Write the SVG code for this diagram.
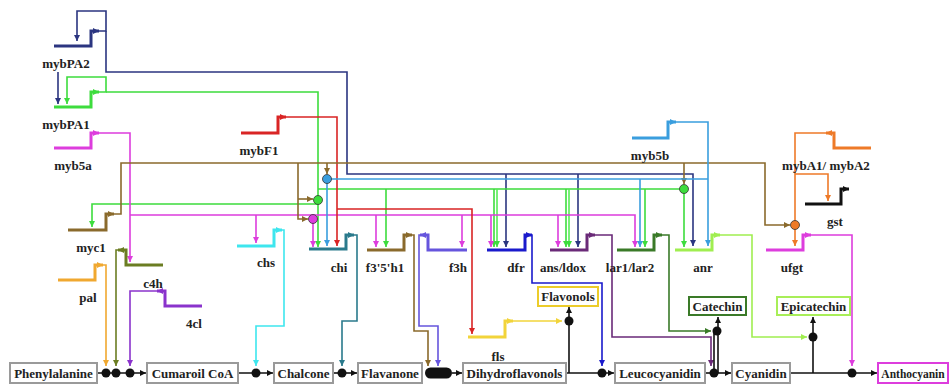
<svg xmlns="http://www.w3.org/2000/svg" width="950" height="385" viewBox="0 0 950 385">
<style>
.g{fill:none;stroke-width:3}
.c{fill:none;stroke-width:1.6}
.lbl{font-family:"Liberation Serif","Times New Roman",serif;font-weight:bold;font-size:13px;fill:#222;text-anchor:middle}
.box{fill:#fff;stroke:#9a9a9a;stroke-width:2}
.k{stroke:#111;fill:none;stroke-width:1.6}
.dot{fill:#111}
</style>
<defs>
<marker id="navy" viewBox="0 0 6 6" refX="6" refY="3" markerWidth="6" markerHeight="6" markerUnits="userSpaceOnUse" orient="auto"><path d="M0,0L6,3L0,6z" fill="#2b3580"/></marker>
<marker id="green" viewBox="0 0 6 6" refX="6" refY="3" markerWidth="6" markerHeight="6" markerUnits="userSpaceOnUse" orient="auto"><path d="M0,0L6,3L0,6z" fill="#3ddc3d"/></marker>
<marker id="mag" viewBox="0 0 6 6" refX="6" refY="3" markerWidth="6" markerHeight="6" markerUnits="userSpaceOnUse" orient="auto"><path d="M0,0L6,3L0,6z" fill="#dd3ddd"/></marker>
<marker id="red" viewBox="0 0 6 6" refX="6" refY="3" markerWidth="6" markerHeight="6" markerUnits="userSpaceOnUse" orient="auto"><path d="M0,0L6,3L0,6z" fill="#d92525"/></marker>
<marker id="brown" viewBox="0 0 6 6" refX="6" refY="3" markerWidth="6" markerHeight="6" markerUnits="userSpaceOnUse" orient="auto"><path d="M0,0L6,3L0,6z" fill="#8a6a2c"/></marker>
<marker id="lblue" viewBox="0 0 6 6" refX="6" refY="3" markerWidth="6" markerHeight="6" markerUnits="userSpaceOnUse" orient="auto"><path d="M0,0L6,3L0,6z" fill="#3a9ede"/></marker>
<marker id="orange" viewBox="0 0 6 6" refX="6" refY="3" markerWidth="6" markerHeight="6" markerUnits="userSpaceOnUse" orient="auto"><path d="M0,0L6,3L0,6z" fill="#ee7a28"/></marker>
<marker id="porange" viewBox="0 0 6 6" refX="6" refY="3" markerWidth="6" markerHeight="6" markerUnits="userSpaceOnUse" orient="auto"><path d="M0,0L6,3L0,6z" fill="#f0a830"/></marker>
<marker id="olive" viewBox="0 0 6 6" refX="6" refY="3" markerWidth="6" markerHeight="6" markerUnits="userSpaceOnUse" orient="auto"><path d="M0,0L6,3L0,6z" fill="#6b7d22"/></marker>
<marker id="purple" viewBox="0 0 6 6" refX="6" refY="3" markerWidth="6" markerHeight="6" markerUnits="userSpaceOnUse" orient="auto"><path d="M0,0L6,3L0,6z" fill="#8a33cc"/></marker>
<marker id="teal" viewBox="0 0 6 6" refX="6" refY="3" markerWidth="6" markerHeight="6" markerUnits="userSpaceOnUse" orient="auto"><path d="M0,0L6,3L0,6z" fill="#2a7a8c"/></marker>
<marker id="cyan" viewBox="0 0 6 6" refX="6" refY="3" markerWidth="6" markerHeight="6" markerUnits="userSpaceOnUse" orient="auto"><path d="M0,0L6,3L0,6z" fill="#3ee6ee"/></marker>
<marker id="violet" viewBox="0 0 6 6" refX="6" refY="3" markerWidth="6" markerHeight="6" markerUnits="userSpaceOnUse" orient="auto"><path d="M0,0L6,3L0,6z" fill="#6655dd"/></marker>
<marker id="blue" viewBox="0 0 6 6" refX="6" refY="3" markerWidth="6" markerHeight="6" markerUnits="userSpaceOnUse" orient="auto"><path d="M0,0L6,3L0,6z" fill="#1a1acc"/></marker>
<marker id="dpurple" viewBox="0 0 6 6" refX="6" refY="3" markerWidth="6" markerHeight="6" markerUnits="userSpaceOnUse" orient="auto"><path d="M0,0L6,3L0,6z" fill="#6a2a78"/></marker>
<marker id="dgreen" viewBox="0 0 6 6" refX="6" refY="3" markerWidth="6" markerHeight="6" markerUnits="userSpaceOnUse" orient="auto"><path d="M0,0L6,3L0,6z" fill="#3a7a28"/></marker>
<marker id="lgreen" viewBox="0 0 6 6" refX="6" refY="3" markerWidth="6" markerHeight="6" markerUnits="userSpaceOnUse" orient="auto"><path d="M0,0L6,3L0,6z" fill="#a0ee50"/></marker>
<marker id="yellow" viewBox="0 0 6 6" refX="6" refY="3" markerWidth="6" markerHeight="6" markerUnits="userSpaceOnUse" orient="auto"><path d="M0,0L6,3L0,6z" fill="#f2d43a"/></marker>
<marker id="black" viewBox="0 0 6 6" refX="6" refY="3" markerWidth="6" markerHeight="6" markerUnits="userSpaceOnUse" orient="auto"><path d="M0,0L6,3L0,6z" fill="#111"/></marker>
</defs>
<rect width="950" height="385" fill="#fff"/>

<g id="connectors">
<path class="c" stroke="#2b3580" d="M97,31H106V11H77V41" marker-end="url(#navy)"/>
<path class="c" stroke="#2b3580" d="M106,31V72H347V174H693V246" marker-end="url(#navy)"/>
<path class="c" stroke="#2b3580" d="M58,72V104" marker-end="url(#navy)"/>
<path class="c" stroke="#2b3580" d="M506,174V247" marker-end="url(#navy)"/>
<path class="c" stroke="#2b3580" d="M578,174V247" marker-end="url(#navy)"/>
<path class="c" stroke="#3ddc3d" d="M97,92H106V77H67V104" marker-end="url(#green)"/>
<path class="c" stroke="#3ddc3d" d="M106,92H318V247" marker-end="url(#green)"/>
<path class="c" stroke="#3ddc3d" d="M318,204H92V227" marker-end="url(#green)"/>
<path class="c" stroke="#3ddc3d" d="M318,189H684V247" marker-end="url(#green)"/>
<path class="c" stroke="#3ddc3d" d="M386,189V247" marker-end="url(#green)"/>
<path class="c" stroke="#3ddc3d" d="M494,189V247" marker-end="url(#green)"/>
<path class="c" stroke="#55ee55" d="M497,189V247" marker-end="url(#green)"/>
<path class="c" stroke="#3ddc3d" d="M566,189V247" marker-end="url(#green)"/>
<path class="c" stroke="#55ee55" d="M569,189V247" marker-end="url(#green)"/>
<path class="c" stroke="#3ddc3d" d="M645,189V247" marker-end="url(#green)"/>
<path class="c" stroke="#dd3ddd" d="M97,133H130V262" marker-end="url(#mag)"/>
<path class="c" stroke="#dd3ddd" d="M130,215H635V247" marker-end="url(#mag)"/>
<path class="c" stroke="#dd3ddd" d="M256,215V243" marker-end="url(#mag)"/>
<path class="c" stroke="#dd3ddd" d="M313,219V247" marker-end="url(#mag)"/>
<path class="c" stroke="#dd3ddd" d="M376,215V247" marker-end="url(#mag)"/>
<path class="c" stroke="#dd3ddd" d="M462,215V247" marker-end="url(#mag)"/>
<path class="c" stroke="#dd3ddd" d="M491,215V247" marker-end="url(#mag)"/>
<path class="c" stroke="#dd3ddd" d="M558,215V247" marker-end="url(#mag)"/>
<path class="c" stroke="#d92525" d="M284,117H337V246" marker-end="url(#red)"/>
<path class="c" stroke="#d92525" d="M337,209H472V334" marker-end="url(#red)"/>
<path class="c" stroke="#8a6a2c" d="M111,214H121V163H765V225H790" marker-end="url(#brown)"/>
<path class="c" stroke="#8a6a2c" d="M298,163V219H308" marker-end="url(#brown)"/>
<path class="c" stroke="#8a6a2c" d="M298,199H313" marker-end="url(#brown)"/>
<path class="c" stroke="#8a6a2c" d="M327,163V174" marker-end="url(#brown)"/>
<path class="c" stroke="#8a6a2c" d="M684,163V184" marker-end="url(#brown)"/>
<path class="c" stroke="#3a9ede" d="M673,122H708V246" marker-end="url(#lblue)"/>
<path class="c" stroke="#3a9ede" d="M708,179H327V246" marker-end="url(#lblue)"/>
<path class="c" stroke="#3a9ede" d="M640,179V247" marker-end="url(#lblue)"/>
<path class="c" stroke="#ee7a28" d="M829,133H795V246" marker-end="url(#orange)"/>
<path class="c" stroke="#ee7a28" d="M795,174H828V201" marker-end="url(#orange)"/>
<path class="c" stroke="#f0a830" d="M100,265H106V366" marker-end="url(#porange)"/>
<path class="c" stroke="#6b7d22" d="M121,250H116V366" marker-end="url(#olive)"/>
<path class="c" stroke="#8a33cc" d="M160,291H130V366" marker-end="url(#purple)"/>
<path class="c" stroke="#3ee6ee" d="M279,230H284V326H256V366" marker-end="url(#cyan)"/>
<path class="c" stroke="#2a7a8c" d="M351,235H357V321H342V366" marker-end="url(#teal)"/>
<path class="c" stroke="#8a6a2c" d="M409,235H414V331H428V366" marker-end="url(#brown)"/>
<path class="c" stroke="#6655dd" d="M423,235H419V326H438V366" marker-end="url(#violet)"/>
<path class="c" stroke="#1a1acc" d="M530,235H532V283H602V366" marker-end="url(#blue)"/>
<path class="c" stroke="#6a2a78" d="M592,235H612V337H711V366" marker-end="url(#dpurple)"/>
<path class="c" stroke="#3a7a28" d="M659,235H669V331H711" marker-end="url(#dgreen)"/>
<path class="c" stroke="#a0ee50" d="M717,235H752V337H807" marker-end="url(#lgreen)"/>
<path class="c" stroke="#dd3ddd" d="M808,235H852V366" marker-end="url(#mag)"/>
<path class="c" stroke="#f2d43a" d="M510,321H562" marker-end="url(#yellow)"/>
<path class="k" d="M97,373H146" marker-end="url(#black)"/>
<path class="k" d="M238,373H273" marker-end="url(#black)"/>
<path class="k" d="M333,373H357" marker-end="url(#black)"/>
<path class="k" d="M452,373H462" marker-end="url(#black)"/>
<path class="k" d="M566,373H614" marker-end="url(#black)"/>
<path class="k" d="M705,373H731" marker-end="url(#black)"/>
<path class="k" d="M790,373H877" marker-end="url(#black)"/>
<path class="k" d="M569,373V307" marker-end="url(#black)"/>
<path class="k" d="M714,373V331"/>
<path class="k" d="M718,373V317" marker-end="url(#black)"/>
<path class="k" d="M813,373V317" marker-end="url(#black)"/>
<circle class="dot" cx="106" cy="373" r="4.5"/>
<circle class="dot" cx="116" cy="373" r="4.5"/>
<circle class="dot" cx="130" cy="373" r="4.5"/>
<circle class="dot" cx="256" cy="373" r="4.5"/>
<circle class="dot" cx="342" cy="373" r="4.5"/>
<rect x="425" y="367.5" width="27" height="11" rx="5.5" fill="#111"/>
<circle class="dot" cx="602" cy="373" r="4.5"/>
<circle class="dot" cx="569" cy="321" r="4.5"/>
<circle class="dot" cx="714" cy="373" r="4.5"/>
<circle class="dot" cx="717" cy="331" r="4.5"/>
<circle class="dot" cx="813" cy="337" r="4.5"/>
<circle class="dot" cx="852" cy="373" r="4.5"/>
<circle cx="318" cy="200" r="4.5" fill="#3ddc3d" stroke="#333" stroke-width="0.8"/>
<circle cx="313" cy="219" r="4.5" fill="#dd3ddd" stroke="#333" stroke-width="0.8"/>
<circle cx="327" cy="179" r="4.5" fill="#3a9ede" stroke="#333" stroke-width="0.8"/>
<circle cx="684" cy="189" r="4.5" fill="#3ddc3d" stroke="#333" stroke-width="0.8"/>
<circle cx="795" cy="225" r="4.5" fill="#ee7a28" stroke="#333" stroke-width="0.8"/>
</g>

<g id="mybPA2"><path class="g" stroke="#2b3580" d="M54,46H91V31H99" marker-end="url(#navy)"/><text class="lbl" x="66" y="68">mybPA2</text></g>
<g id="mybPA1"><path class="g" stroke="#3ddc3d" d="M54,107H91V92H99" marker-end="url(#green)"/><text class="lbl" x="66" y="129">mybPA1</text></g>
<g id="myb5a"><path class="g" stroke="#dd3ddd" d="M54,148H91V133H99" marker-end="url(#mag)"/><text class="lbl" x="73" y="170">myb5a</text></g>
<g id="mybF1"><path class="g" stroke="#d92525" d="M241,133H278V117H286" marker-end="url(#red)"/><text class="lbl" x="259" y="155">mybF1</text></g>
<g id="myc1"><path class="g" stroke="#8a6a2c" d="M68,230H106V214H114" marker-end="url(#brown)"/><text class="lbl" x="91" y="252">myc1</text></g>
<g id="pal"><path class="g" stroke="#f0a830" d="M58,280H95V265H103" marker-end="url(#porange)"/><text class="lbl" x="88" y="302">pal</text></g>
<g id="c4h"><path class="g" stroke="#6b7d22" d="M163,265H126V250H118" marker-end="url(#olive)"/><text class="lbl" x="153" y="288">c4h</text></g>
<g id="4cl"><path class="g" stroke="#8a33cc" d="M202,306H165V291H157" marker-end="url(#purple)"/><text class="lbl" x="194" y="328">4cl</text></g>
<g id="chs"><path class="g" stroke="#3ee6ee" d="M237,246H274V230H282" marker-end="url(#cyan)"/><text class="lbl" x="266" y="267">chs</text></g>
<g id="chi"><path class="g" stroke="#2a7a8c" d="M309,249H346V235H354" marker-end="url(#teal)"/><text class="lbl" x="339" y="272">chi</text></g>
<g id="f3-5-h1"><path class="g" stroke="#8a6a2c" d="M367,250H404V235H412" marker-end="url(#brown)"/><text class="lbl" x="385" y="272">f3'5'h1</text></g>
<g id="f3h"><path class="g" stroke="#6655dd" d="M467,250H428V235H420" marker-end="url(#violet)"/><text class="lbl" x="458" y="272">f3h</text></g>
<g id="dfr"><path class="g" stroke="#1a1acc" d="M487,250H525V235H532" marker-end="url(#blue)"/><text class="lbl" x="516" y="272">dfr</text></g>
<g id="ans-ldox"><path class="g" stroke="#6a2a78" d="M550,250H587V235H595" marker-end="url(#dpurple)"/><text class="lbl" x="563" y="272">ans/ldox</text></g>
<g id="lar1-lar2"><path class="g" stroke="#3a7a28" d="M617,250H654V235H662" marker-end="url(#dgreen)"/><text class="lbl" x="630" y="272">lar1/lar2</text></g>
<g id="anr"><path class="g" stroke="#a0ee50" d="M675,250H712V235H720" marker-end="url(#lgreen)"/><text class="lbl" x="703" y="272">anr</text></g>
<g id="ufgt"><path class="g" stroke="#dd3ddd" d="M766,250H803V235H811" marker-end="url(#mag)"/><text class="lbl" x="792" y="272">ufgt</text></g>
<g id="myb5b"><path class="g" stroke="#3a9ede" d="M632,138H668V122H676" marker-end="url(#lblue)"/><text class="lbl" x="650" y="160">myb5b</text></g>
<g id="mybA1-mybA2"><path class="g" stroke="#ee7a28" d="M871,148H834V133H826" marker-end="url(#orange)"/><text class="lbl" x="826" y="170">mybA1/ mybA2</text></g>
<g id="gst"><path class="g" stroke="#111" d="M805,204H841V189H849" marker-end="url(#black)"/><text class="lbl" x="835" y="226">gst</text></g>
<g id="fls"><path class="g" stroke="#f2d43a" d="M468,337H505V321H513" marker-end="url(#yellow)"/><text class="lbl" x="498" y="361">fls</text></g>

<g id="Phenylalanine"><rect class="box" x="10" y="363" width="87" height="20"/><text class="lbl" x="53.5" y="378">Phenylalanine</text></g>
<g id="CumaroilCoA"><rect class="box" x="147" y="363" width="91" height="20"/><text class="lbl" x="192.5" y="378">Cumaroil CoA</text></g>
<g id="Chalcone"><rect class="box" x="274" y="363" width="59" height="20"/><text class="lbl" x="303.5" y="378">Chalcone</text></g>
<g id="Flavanone"><rect class="box" x="358" y="363" width="64" height="20"/><text class="lbl" x="390" y="378">Flavanone</text></g>
<g id="Dihydroflavonols"><rect class="box" x="463" y="363" width="103" height="20"/><text class="lbl" x="514.5" y="378">Dihydroflavonols</text></g>
<g id="Leucocyanidin"><rect class="box" x="615" y="363" width="90" height="20"/><text class="lbl" x="660" y="378">Leucocyanidin</text></g>
<g id="Cyanidin"><rect class="box" x="732" y="363" width="58" height="20"/><text class="lbl" x="761" y="378">Cyanidin</text></g>
<g id="Anthocyanin"><rect class="box" x="878" y="363" width="70" height="20" style="stroke:#dd3ddd"/><text class="lbl" x="913" y="378" style="font-size:11.5px">Anthocyanin</text></g>
<g id="Flavonols"><rect class="box" x="538" y="287" width="60" height="19" style="stroke:#eccc2a"/><text class="lbl" x="568" y="301">Flavonols</text></g>
<g id="Catechin"><rect class="box" x="689" y="297" width="57" height="18" style="stroke:#3a7a28"/><text class="lbl" x="717.5" y="311">Catechin</text></g>
<g id="Epicatechin"><rect class="box" x="777" y="297" width="73" height="18" style="stroke:#a8ee58"/><text class="lbl" x="813.5" y="311">Epicatechin</text></g>
</svg>
